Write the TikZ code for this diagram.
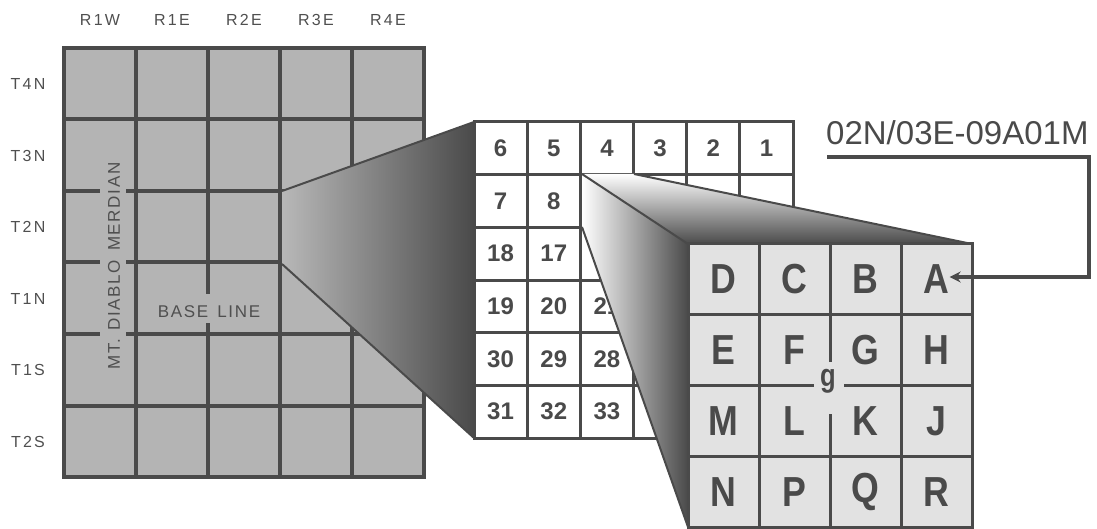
\documentclass[tikz,border=0pt]{standalone}
\usepackage{fontspec}
\setmainfont{Liberation Sans}
\usetikzlibrary{arrows.meta}
\definecolor{ink}{HTML}{4A4A4A}
\definecolor{lab}{HTML}{4F4F4F}
\definecolor{cellg}{HTML}{B4B4B4}
\definecolor{cellL}{HTML}{E2E2E2}
\definecolor{trapL}{HTML}{B8B8B8}
\begin{document}
\begin{tikzpicture}[x=1pt,y=-1pt,
  axlab/.style={text=lab, font=\fontsize{16}{16}\selectfont\addfontfeature{LetterSpace=14}, inner sep=0},
  maplab/.style={text=lab, font=\fontsize{17}{17}\selectfont\addfontfeature{LetterSpace=10}, inner sep=0},
  numlab/.style={text=ink, font=\bfseries\fontsize{24}{24}\selectfont, inner sep=0},
  letlab/.style={text=ink, font=\bfseries\fontsize{42}{42}\selectfont, inner sep=0},
  titlab/.style={text=ink, font=\fontsize{33}{33}\selectfont, inner sep=0},
  bigline/.style={draw=ink, line width=4, line cap=rect},
  midline/.style={draw=ink, line width=3, line cap=rect},
  edge/.style={draw=ink, line width=2},
  conn/.style={draw=ink, line width=4},
]
\useasboundingbox (0,0) rectangle (1097,529);

% ---------------- township grid ----------------
\fill[cellg] (64,48) rectangle (424,477);
\foreach \x in {64,136,280,352,424} \draw[bigline] (\x,48) -- (\x,477);
\draw[bigline] (208,48) -- (208,292) (208,325) -- (208,477);
\foreach \y in {48,119.5,405.5,477} \draw[bigline] (64,\y) -- (424,\y);
\foreach \y in {191,262.5,334} \draw[bigline] (64,\y) -- (98,\y) (128,\y) -- (424,\y);

\foreach \t/\x in {R1W/100,R1E/172,R2E/244,R3E/316,R4E/388}
  \node[axlab] (c\t) at (\x,20) {\t};
\foreach \t/\y in {T4N/84,T3N/155.5,T2N/227,T1N/298.5,T1S/370,T2S/441.5}
  \node[axlab] (r\t) at (28,\y) {\t};

\node[maplab, rotate=90] (meridian) at (114,266) {MT.\hspace{8pt}DIABLO\hspace{9pt}MERDIAN};
\node[maplab] (baseline) at (209,312) {BASE\hspace{9pt}LINE};

% ---------------- first zoom ----------------
\shade[left color=trapL, right color=ink] (282,191) -- (474,122) -- (474,438) -- (282,264) -- cycle;
\draw[edge] (282,191) -- (474,122);
\draw[edge] (282,264) -- (474,438);

% ---------------- section grid ----------------
\fill[white] (474,122) rectangle (793,438);
\foreach \i in {0,...,6} \draw[midline] ({474+53.17*\i},122) -- ({474+53.17*\i},438);
\foreach \j in {0,...,6} \draw[midline] (474,{122+52.67*\j}) -- (793,{122+52.67*\j});
\foreach \n/\c/\r in {6/0/0,5/1/0,4/2/0,3/3/0,2/4/0,1/5/0,7/0/1,8/1/1,18/0/2,17/1/2,19/0/3,20/1/3,21/2/3,30/0/4,29/1/4,28/2/4,31/0/5,32/1/5,33/2/5}
  \node[numlab] (s\n) at ({474+53.17*(\c+0.5)},{122+52.67*(\r+0.5)}) {\n};

% ---------------- second zoom ----------------
\shade[top color=white, bottom color=ink] (582,174) -- (634,174) -- (972,244) -- (688,244) -- cycle;
\shade[left color=white, right color=ink] (582,174) -- (688,244) -- (688,527) -- (582,227) -- cycle;
\draw[edge] (582,174) -- (688,244);
\draw[edge] (634,174) -- (972,244);
\draw[edge] (582,227) -- (688,527);

% ---------------- quarter-quarter grid ----------------
\fill[cellL] (688,244) rectangle (972,527);
\foreach \i in {0,1,3,4} \draw[midline] ({688+71*\i},244) -- ({688+71*\i},527);
\draw[midline] (830,244) -- (830,360) (830,415) -- (830,527);
\foreach \j in {0,1,3,4} \draw[midline] (688,{244+70.75*\j}) -- (972,{244+70.75*\j});
\draw[midline] (688,385.5) -- (812,385.5) (845,385.5) -- (972,385.5);
\foreach \l/\c/\r in {D/0/0,C/1/0,B/2/0,A/3/0,E/0/1,F/1/1,G/2/1,H/3/1,M/0/2,L/1/2,K/2/2,J/3/2,N/0/3,P/1/3,Q/2/3,R/3/3}
  \node[letlab] (q\l) at ({688+71*(\c+0.5)},{244+70.75*(\r+0.5)}) {\scalebox{0.85}[1]{\l}};
\node[text=ink, font=\bfseries\fontsize{32}{32}\selectfont, inner sep=0] (gmark) at (828,381) {\scalebox{0.8}[1]{g}};

% ---------------- title and connector ----------------
\node[titlab, anchor=base west] (title) at (826,145) {02N/03E-09A01M};
\coordinate (u0) at (827,157);
\coordinate (u1) at (1089,157);
\coordinate (u2) at (1089,277);
\draw[conn, -{Stealth[length=11pt,width=11pt]}] (u0) -- (u1) -- (u2) -- (u2 -| qA.east);
\end{tikzpicture}
\end{document}
